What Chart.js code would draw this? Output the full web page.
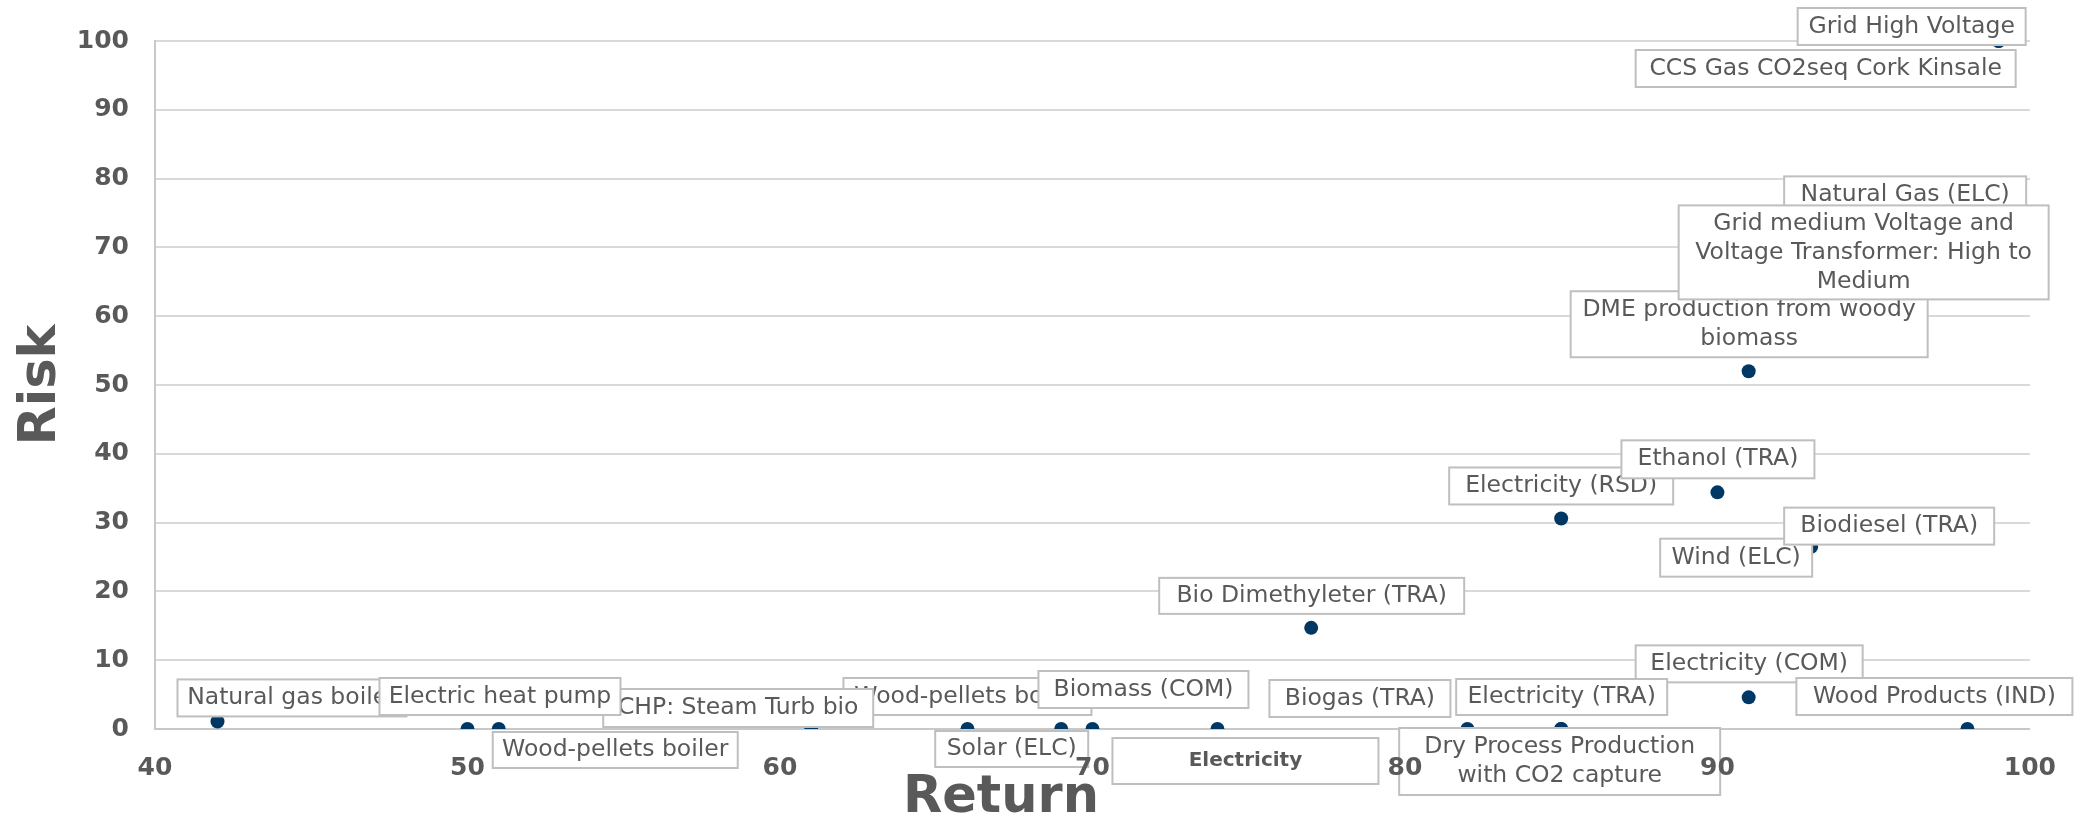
<!DOCTYPE html>
<html>
<head>
    <title>Risk vs Return</title>
    <style>
        body { margin: 0; background: #fff; }
        canvas { display: block; }
    </style>
</head>
<body>
    <canvas id="riskChart" width="2080" height="817"></canvas>

    <script src="https://cdn.jsdelivr.net/npm/chart.js"></script>
    <script>
        // data, in the order the labels get painted (later ones sit on top)
        const names = [
            'Natural gas boiler',
            'Wood-pellets boiler',
            'CHP: Steam Turb bio',
            'Electric heat pump',
            'Wood-pellets boiler',
            'Solar (ELC)',
            'Biomass (COM)',
            'Electricity',
            'Bio Dimethyleter (TRA)',
            'Biogas (TRA)',
            'Electricity (COM)',
            'Electricity (TRA)',
            'Dry Process Production\nwith CO2 capture',
            'Wood Products (IND)',
            'Electricity (RSD)',
            'Ethanol (TRA)',
            'Wind (ELC)',
            'Biodiesel (TRA)',
            'DME production from woody\nbiomass',
            'Natural Gas (ELC)',
            'Grid medium Voltage and\nVoltage Transformer: High to\nMedium',
            'Grid High Voltage',
            'CCS Gas CO2seq Cork Kinsale'
        ];
        const returns = [42, 66, 61, 50, 51, 69, 70, 74, 77, 82, 91, 85, 85, 98, 85, 90, 93, 93, 91, 97, 99, 99, 99];
        const risks   = [1.1, 0, 0, 0, 0, 0, 0, 0, 14.7, 0, 4.6, 0, 0, 0, 30.6, 34.4, 26.5, 26.8, 52, 78, 70, 100, 100];

        const xTicks = [40, 50, 60, 70, 80, 90, 100];
        const yTicks = [0, 10, 20, 30, 40, 50, 60, 70, 80, 90, 100];

        // label box placement relative to its point: [dx, dy, width, height] in px
        const labelBoxes = [
            [-40, -42, 229, 37],
            [-124, -51, 248, 37],
            [-208, -40, 270, 38],
            [-88, -51, 241, 37],
            [-6, 3, 245, 36],
            [-126, 2, 153, 36],
            [-54, -58, 210, 37],
            [-105, 9, 266, 46],
            [-152, -50, 305, 36],
            [-198, -49, 181, 37],
            [-113, -52, 227, 37],
            [-105, -50, 211, 36],
            [-162, -1, 321, 67],
            [-171, -51, 276, 37],
            [-112, -51, 224, 37],
            [-96, -52, 193, 38],
            [-151, -8, 152, 38],
            [-27, -37, 210, 37],
            [-178, -80, 357, 66],
            [-152, -16, 242, 37],
            [-320, -42, 370, 94],
            [-201, -33, 228, 37],
            [-363, 9, 380, 37]
        ];
        const boldLabels = ['Electricity'];

        const grey = '#595959';
        const font = '"DejaVu Sans", Verdana, sans-serif';

        const boxLabels = {
            id: 'boxLabels',
            afterDatasetsDraw(chart) {
                const ctx = chart.ctx;
                const pts = chart.getDatasetMeta(0).data;
                ctx.save();
                names.forEach((name, i) => {
                    const [dx, dy, w, h] = labelBoxes[i];
                    const x = pts[i].x + dx;
                    const y = pts[i].y + dy;
                    ctx.fillStyle = '#ffffff';
                    ctx.fillRect(x, y, w, h);
                    ctx.strokeStyle = '#bfbfbf';
                    ctx.lineWidth = 2;
                    ctx.strokeRect(x, y, w, h);

                    const bold = boldLabels.includes(name);
                    ctx.font = bold ? 'bold 20px ' + font : '23.5px ' + font;
                    ctx.fillStyle = grey;
                    ctx.textAlign = 'center';
                    ctx.textBaseline = 'middle';
                    const lines = name.split('\n');
                    lines.forEach((ln, k) => {
                        ctx.fillText(ln, x + w / 2, y + h / 2 + (k - (lines.length - 1) / 2) * 29);
                    });
                });
                ctx.restore();
            }
        };

        const axisTitles = {
            id: 'axisTitles',
            afterDraw(chart) {
                const ctx = chart.ctx;
                ctx.save();
                ctx.fillStyle = grey;
                ctx.font = 'bold 51px ' + font;
                ctx.textAlign = 'center';
                ctx.textBaseline = 'alphabetic';
                ctx.fillText('Return', 1001, 812);
                ctx.translate(55, 385);
                ctx.rotate(-Math.PI / 2);
                ctx.fillText('Risk', 0, 0);
                ctx.restore();
            }
        };

        const tickFont = { family: font, size: 25, weight: 'bold' };

        const ctx = document.getElementById('riskChart').getContext('2d');
        const chart = new Chart(ctx, {
            type: 'scatter',
            data: {
                datasets: [{
                    data: returns.map((r, i) => ({ x: r, y: risks[i] })),
                    backgroundColor: '#003865',
                    borderWidth: 0,
                    pointRadius: 7,
                    pointHoverRadius: 7
                }]
            },
            options: {
                responsive: false,
                animation: false,
                devicePixelRatio: 1,
                layout: { padding: { top: 37, right: 44, left: 0, bottom: 0 } },
                plugins: {
                    legend: { display: false },
                    tooltip: { enabled: false }
                },
                scales: {
                    x: {
                        type: 'linear',
                        min: xTicks[0],
                        max: xTicks[xTicks.length - 1],
                        afterBuildTicks: s => { s.ticks = xTicks.map(v => ({ value: v })); },
                        // z: 1 so the tick numbers paint over the label boxes, as in the original
                        ticks: { color: grey, font: tickFont, padding: 24, maxRotation: 0, z: 1 },
                        grid: { display: false, drawTicks: false },
                        border: { color: '#c8c8c8', width: 2 },
                        afterFit: s => { s.height = 88; }
                    },
                    y: {
                        min: yTicks[0],
                        max: yTicks[yTicks.length - 1],
                        afterBuildTicks: s => { s.ticks = yTicks.map(v => ({ value: v })); },
                        ticks: { color: grey, font: tickFont, padding: 26 },
                        grid: { color: '#d9d9d9', lineWidth: 2, drawTicks: false },
                        border: { color: '#c8c8c8', width: 2 },
                        afterFit: s => { s.width = 155; }
                    }
                }
            },
            plugins: [boxLabels, axisTitles]
        });
    </script>
</body>
</html>
